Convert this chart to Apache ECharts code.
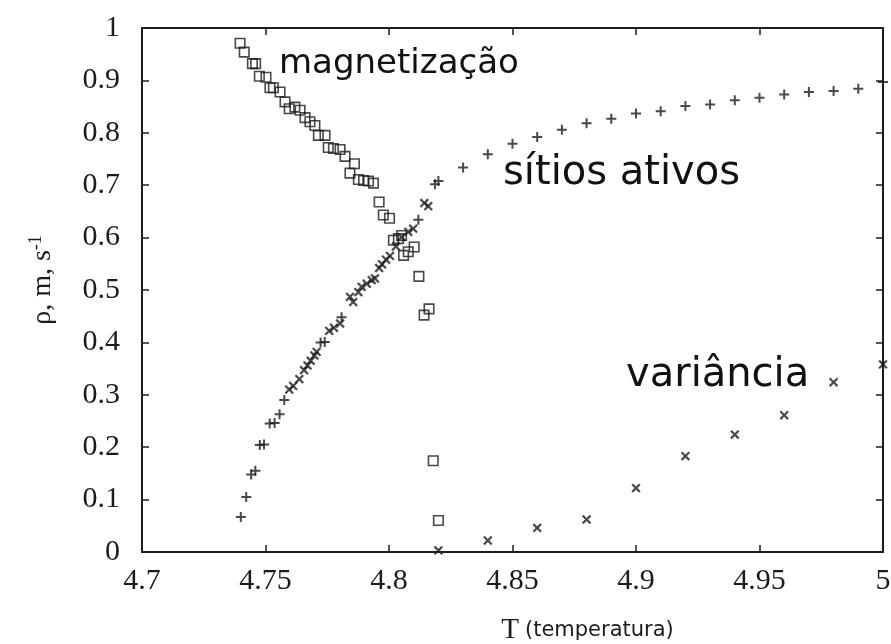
<!DOCTYPE html>
<html>
<head>
<meta charset="utf-8">
<script src="https://cdn.jsdelivr.net/npm/echarts@6/dist/echarts.min.js"></script>
<style>
  html, body { margin: 0; padding: 0; background: #ffffff; }
  #chart { width: 891px; height: 644px; }
</style>
</head>
<body>
<div id="chart"></div>
<script>
// ---- tick labels ----
const xTickValues = [4.7, 4.75, 4.8, 4.85, 4.9, 4.95, 5];
const xTickLabels = ['4.7', '4.75', '4.8', '4.85', '4.9', '4.95', '5'];
const yTickValues = [0, 0.1, 0.2, 0.3, 0.4, 0.5, 0.6, 0.7, 0.8, 0.9, 1];
const yTickLabels = ['0', '0.1', '0.2', '0.3', '0.4', '0.5', '0.6', '0.7', '0.8', '0.9', '1'];

// ---- magnetização (open squares) ----
const magT = [4.7397, 4.7414, 4.7447, 4.7460, 4.7475, 4.7502, 4.7518, 4.7532, 4.7559, 4.7579,
              4.7596, 4.7619, 4.7640, 4.7660, 4.7680, 4.7700, 4.7714, 4.7741, 4.7754, 4.7775,
              4.7802, 4.7822, 4.7860, 4.7842, 4.7876, 4.7897, 4.7917, 4.7937, 4.7960, 4.7977,
              4.8002, 4.8018, 4.8038, 4.8051, 4.8059, 4.8078, 4.8102, 4.8121, 4.8142, 4.8162,
              4.8179, 4.8200];
const magV = [0.971, 0.954, 0.932, 0.932, 0.908, 0.906, 0.886, 0.886, 0.878, 0.859,
              0.846, 0.849, 0.843, 0.829, 0.821, 0.814, 0.795, 0.795, 0.772, 0.770,
              0.768, 0.755, 0.741, 0.723, 0.711, 0.709, 0.708, 0.704, 0.668, 0.643,
              0.637, 0.595, 0.598, 0.604, 0.566, 0.573, 0.582, 0.526, 0.452, 0.464,
              0.174, 0.060];

// ---- sítios ativos ('+' markers) ----
const sitPlusT = [4.7400, 4.7422, 4.7442, 4.7459, 4.7477, 4.7494, 4.7517, 4.7537, 4.7557, 4.7576,
                  4.7723, 4.7740, 4.7808, 4.8119, 4.8186, 4.8200,
                  4.83, 4.84, 4.85, 4.86, 4.87, 4.88, 4.89, 4.90, 4.91, 4.92,
                  4.93, 4.94, 4.95, 4.96, 4.97, 4.98, 4.99, 5.00];
const sitPlusV = [0.067, 0.105, 0.148, 0.155, 0.204, 0.205, 0.245, 0.246, 0.263, 0.290,
                  0.400, 0.401, 0.448, 0.634, 0.702, 0.708,
                  0.734, 0.759, 0.779, 0.792, 0.806, 0.818, 0.827, 0.837, 0.841, 0.851,
                  0.854, 0.862, 0.867, 0.873, 0.878, 0.880, 0.884, 0.897];

// ---- sítios ativos ('x' shaped markers on the rising branch) ----
const sitCrossT = [4.7596, 4.7612, 4.7637, 4.7656, 4.7670, 4.7683, 4.7698, 4.7707, 4.7758, 4.7777,
                   4.7802, 4.7842, 4.7855, 4.7876, 4.7889, 4.7910, 4.7930, 4.7943, 4.7960, 4.7972,
                   4.7988, 4.8004, 4.8028, 4.8051, 4.8078, 4.8098, 4.8143, 4.8159];
const sitCrossV = [0.310, 0.317, 0.330, 0.347, 0.356, 0.365, 0.375, 0.382, 0.422, 0.428,
                   0.436, 0.487, 0.477, 0.496, 0.506, 0.512, 0.519, 0.522, 0.542, 0.549,
                   0.558, 0.565, 0.583, 0.601, 0.611, 0.617, 0.666, 0.660];

// ---- variância ('x' markers) ----
const varT = [4.82, 4.84, 4.86, 4.88, 4.90, 4.92, 4.94, 4.96, 4.98, 5.00];
const varV = [0.003, 0.022, 0.046, 0.062, 0.122, 0.183, 0.224, 0.261, 0.324, 0.358];

function pairs(xs, ys) { return xs.map((x, i) => [x, ys[i]]); }
function lookup(vals, labels, v) {
  let best = 0;
  for (let i = 0; i < vals.length; i++) if (Math.abs(vals[i] - v) < Math.abs(vals[best] - v)) best = i;
  return labels[best];
}

const INK = '#1c1c1c';
const PLUS = 'path://M4,0L6,0L6,4L10,4L10,6L6,6L6,10L4,10L4,6L0,6L0,4L4,4Z';
const SERIF = 'Liberation Serif';

const axisLineStyle = { show: true, lineStyle: { color: INK, width: 2 } };
const tickStyle = { show: true, inside: true, length: 7, lineStyle: { color: INK, width: 1.5 } };

const chart = echarts.init(document.getElementById('chart'), null, { renderer: 'canvas' });
chart.setOption({
  animation: false,
  backgroundColor: '#ffffff',
  grid: { left: 142, right: 8, top: 28, bottom: 92, outerBoundsMode: 'none', containLabel: false },
  xAxis: [
    {
      type: 'value', min: 4.7, max: 5, interval: 0.05, position: 'bottom',
      axisLine: Object.assign({ onZero: false }, axisLineStyle),
      axisTick: tickStyle,
      splitLine: { show: false },
      axisLabel: {
        color: INK, fontFamily: SERIF, fontSize: 30, margin: 14,
        formatter: v => lookup(xTickValues, xTickLabels, v)
      },
      name: '{t|T}{p|(temperatura)}',
      nameLocation: 'middle', nameGap: 64,
      nameTextStyle: {
        padding: [0, 0, 0, 150],
        rich: {
          t: { fontFamily: SERIF, fontSize: 29, color: INK, padding: [0, 6, 0, 0] },
          p: { fontFamily: 'DejaVu Sans', fontSize: 21, color: INK }
        }
      }
    },
    {
      type: 'value', min: 4.7, max: 5, interval: 0.05, position: 'top',
      axisLine: Object.assign({ onZero: false }, axisLineStyle),
      axisTick: tickStyle,
      axisLabel: { show: false },
      splitLine: { show: false }
    }
  ],
  yAxis: [
    {
      type: 'value', min: 0, max: 1, interval: 0.1, position: 'left',
      axisLine: Object.assign({ onZero: false }, axisLineStyle),
      axisTick: tickStyle,
      splitLine: { show: false },
      axisLabel: {
        color: INK, fontFamily: SERIF, fontSize: 30, margin: 22,
        formatter: v => lookup(yTickValues, yTickLabels, v)
      },
      name: '{a|ρ, m, s}{b|-1}',
      nameLocation: 'middle', nameGap: 85, nameRotate: 90,
      nameTextStyle: {
        padding: [0, 0, 0, 20],
        rich: {
          a: { fontFamily: SERIF, fontSize: 28, color: INK, lineHeight: 30, verticalAlign: 'bottom' },
          b: { fontFamily: SERIF, fontSize: 18, color: INK, lineHeight: 30, verticalAlign: 'top' }
        }
      }
    },
    {
      type: 'value', min: 0, max: 1, interval: 0.1, position: 'right',
      axisLine: Object.assign({ onZero: false }, axisLineStyle),
      axisTick: tickStyle,
      axisLabel: { show: false },
      splitLine: { show: false }
    }
  ],
  series: [
    {
      name: 'magnetização', type: 'scatter', xAxisIndex: 0, yAxisIndex: 0,
      data: pairs(magT, magV),
      symbol: 'rect', symbolSize: 9.5,
      itemStyle: { color: 'rgba(0,0,0,0)', borderColor: INK, borderWidth: 1.6 }
    },
    {
      name: 'sítios ativos', type: 'scatter', xAxisIndex: 0, yAxisIndex: 0,
      data: pairs(sitPlusT, sitPlusV),
      symbol: PLUS, symbolSize: 10,
      itemStyle: { color: INK }
    },
    {
      name: 'sítios ativos (x)', type: 'scatter', xAxisIndex: 0, yAxisIndex: 0,
      data: pairs(sitCrossT, sitCrossV),
      symbol: PLUS, symbolSize: 11, symbolRotate: 45,
      itemStyle: { color: INK }
    },
    {
      name: 'variância', type: 'scatter', xAxisIndex: 0, yAxisIndex: 0,
      data: pairs(varT, varV),
      symbol: PLUS, symbolSize: 11, symbolRotate: 45,
      itemStyle: { color: INK }
    }
  ],
  graphic: [
    { type: 'text', x: 279, y: 64, silent: true,
      style: { text: 'magnetização', fontFamily: 'DejaVu Sans', fontSize: 34, fill: '#111', align: 'left', verticalAlign: 'middle' } },
    { type: 'text', x: 503, y: 174, silent: true,
      style: { text: 'sítios ativos', fontFamily: 'DejaVu Sans', fontSize: 40, fill: '#111', align: 'left', verticalAlign: 'middle' } },
    { type: 'text', x: 626, y: 376, silent: true,
      style: { text: 'variância', fontFamily: 'DejaVu Sans', fontSize: 40, fill: '#111', align: 'left', verticalAlign: 'middle' } }
  ]
});
</script>
</body>
</html>
